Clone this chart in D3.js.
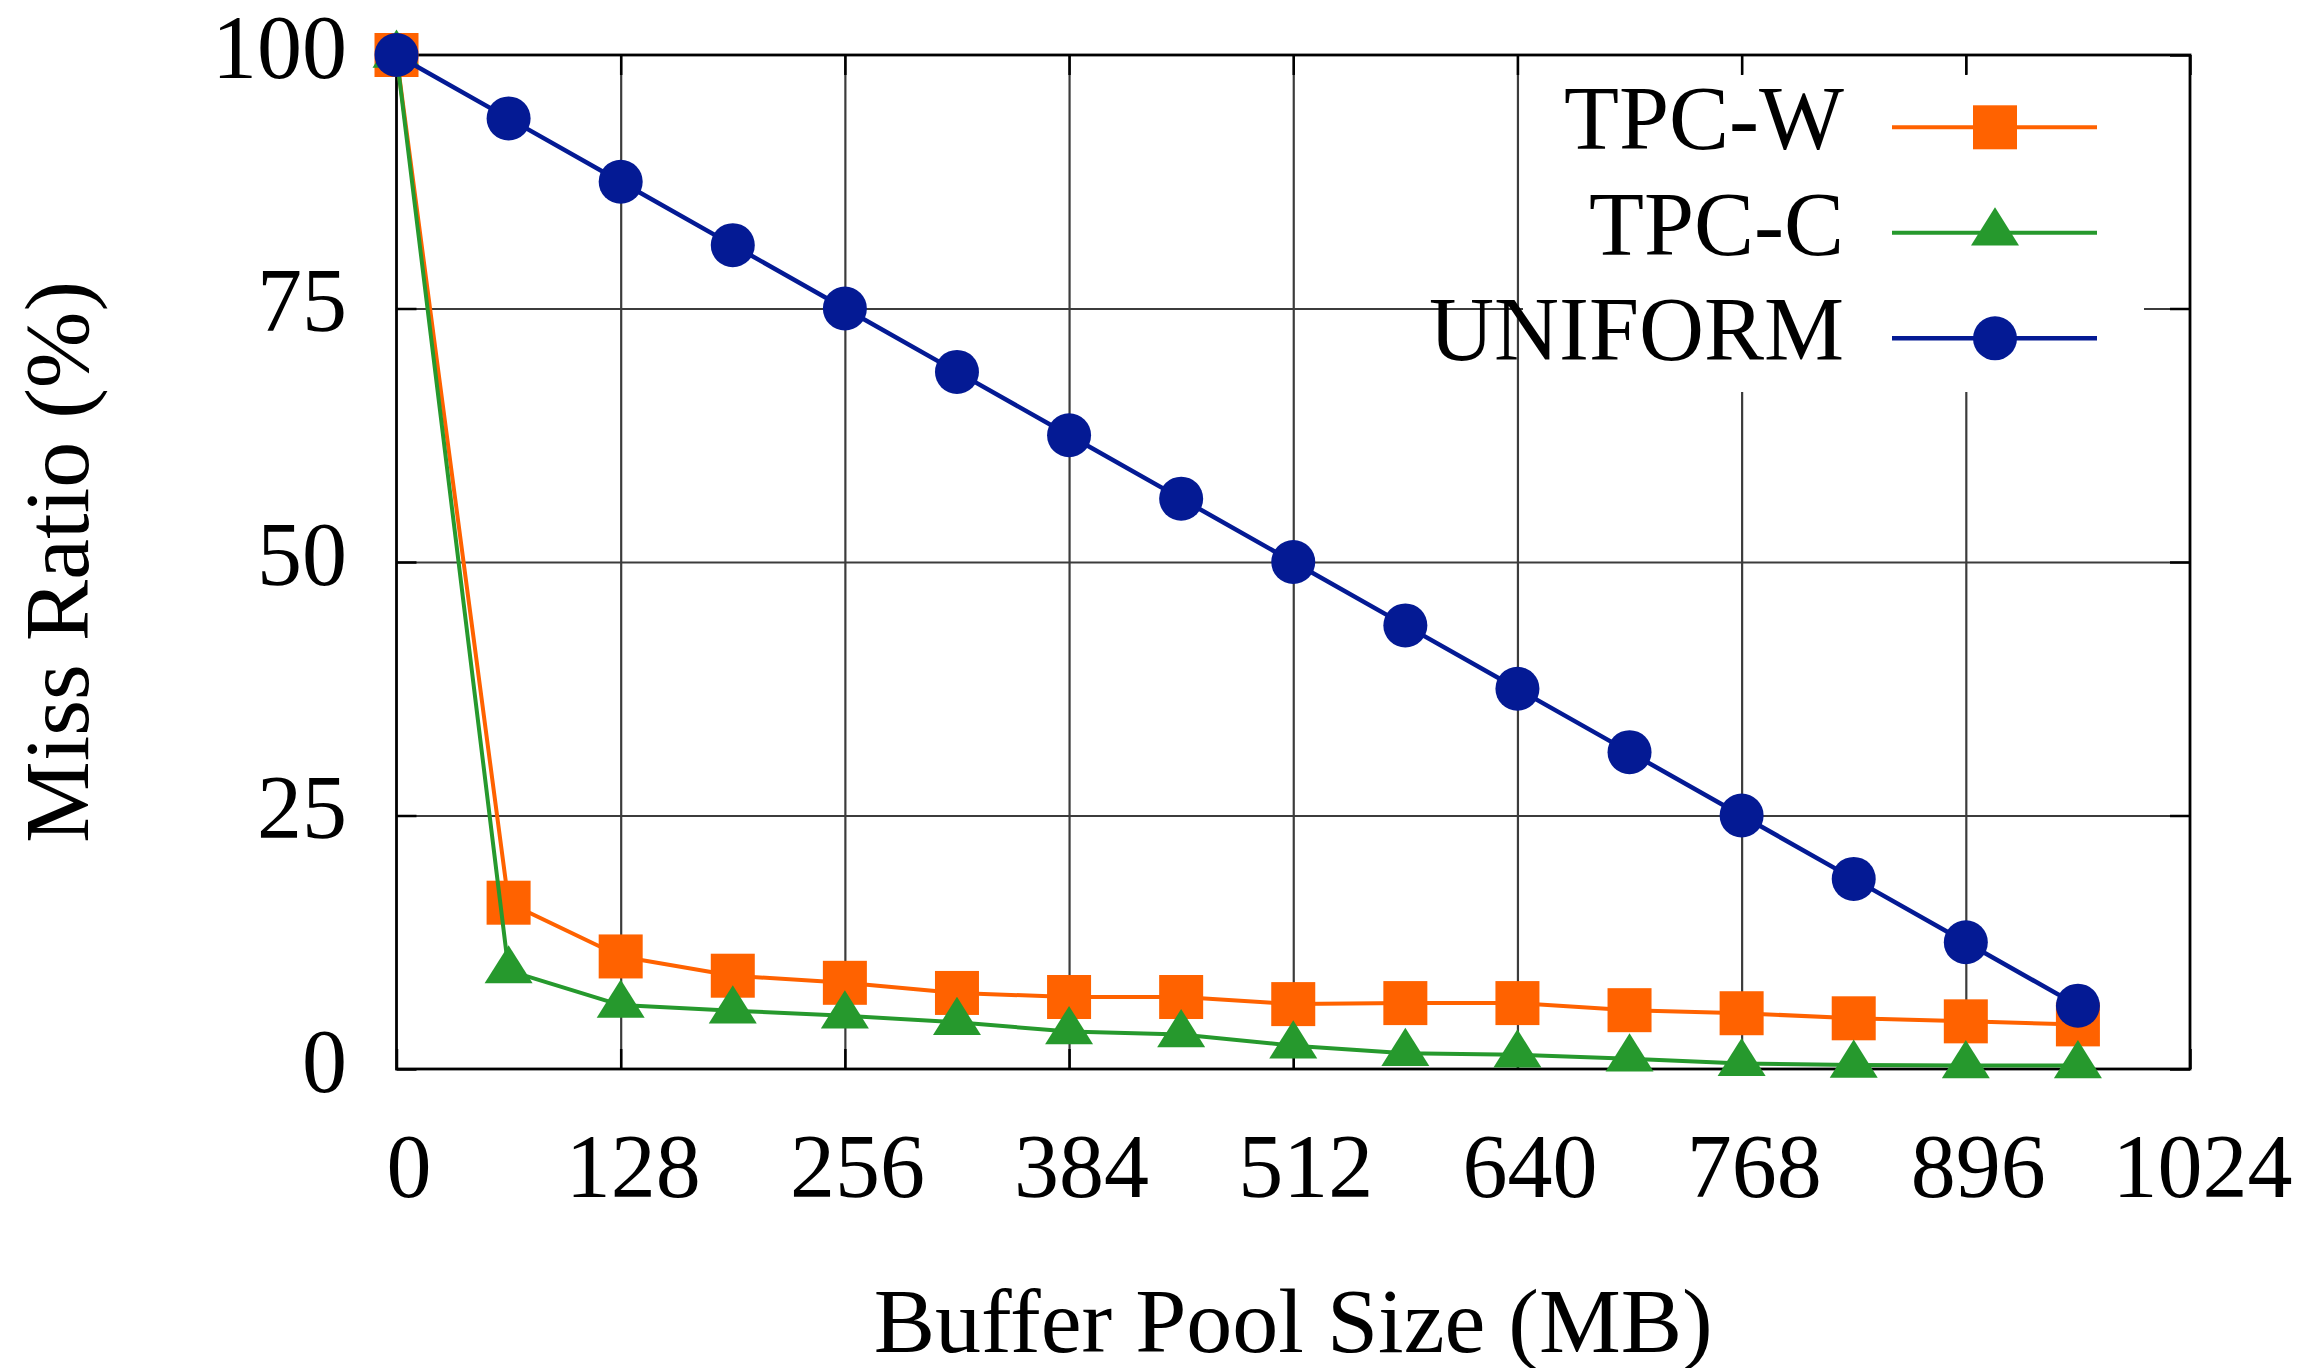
<!DOCTYPE html>
<html>
<head>
  <meta charset="UTF-8">
  <title>Miss Ratio vs Buffer Pool Size</title>
  <script src="https://cdn.jsdelivr.net/npm/d3@7"></script>
  <style>
    body { margin: 0; background: #fff; }
    text { font-family: "Liberation Serif", "Times New Roman", serif; fill: #000; }
  </style>
</head>
<body>
<svg id="chart" width="2322" height="1368"></svg>
<script>
  // data
  const poolSizes = [0, 64, 128, 192, 256, 320, 384, 448, 512, 576, 640, 704, 768, 832, 896, 960];
  const tpcw = [100, 16.4, 11.1, 9.2, 8.5, 7.5, 7.1, 7.1, 6.4, 6.5, 6.5, 5.8, 5.5, 5.0, 4.7, 4.4];
  const tpcc = [100, 9.7, 6.3, 5.75, 5.25, 4.6, 3.7, 3.4, 2.3, 1.55, 1.4, 1.0, 0.55, 0.4, 0.35, 0.35];
  const uniform = [100, 93.75, 87.5, 81.25, 75, 68.75, 62.5, 56.25, 50, 43.75, 37.5, 31.25, 25, 18.75, 12.5, 6.25];

  const xTicks = [0, 128, 256, 384, 512, 640, 768, 896, 1024];
  const yTicks = [0, 25, 50, 75, 100];
  const seriesNames = ['TPC-W', 'TPC-C', 'UNIFORM'];

  const margin = {left: 396.5, right: 132, top: 55, bottom: 299};
  const width = 2322 - margin.left - margin.right;
  const height = 1368 - margin.top - margin.bottom;

  const svg = d3.select('#chart');
  const g = svg.append('g').attr('transform', `translate(${margin.left},${margin.top})`);

  const x = d3.scaleLinear().domain([0, 1024]).range([0, width]);
  const y = d3.scaleLinear().domain([0, 100]).range([height, 0]);
  const fmt = d3.format('d');

  // grid
  g.append('g').attr('class', 'grid')
    .attr('transform', `translate(0,${height})`)
    .call(d3.axisBottom(x).tickValues(xTicks.slice(1, -1)).tickSize(-height).tickFormat(''));
  g.append('g').attr('class', 'grid')
    .call(d3.axisLeft(y).tickValues(yTicks.slice(1, -1)).tickSize(-width).tickFormat(''));
  g.selectAll('.grid .domain').remove();
  g.selectAll('.grid line').attr('stroke', '#3c3c3c').attr('stroke-width', 2.2);

  // key background hides the grid behind it
  g.append('rect')
    .attr('x', 1523 - margin.left).attr('y', 74 - margin.top)
    .attr('width', 621).attr('height', 318)
    .attr('fill', '#fff');

  // axes with inward ticks on all four sides
  const xAxis = g.append('g').attr('class', 'axis').attr('transform', `translate(0,${height})`)
    .call(d3.axisBottom(x).tickValues(xTicks).tickFormat(fmt).tickSize(-20).tickSizeOuter(0));
  xAxis.selectAll('text').attr('y', 128).attr('dy', 0).attr('dx', 12);

  const yAxis = g.append('g').attr('class', 'axis')
    .call(d3.axisLeft(y).tickValues(yTicks).tickFormat(fmt).tickSize(-20).tickSizeOuter(0));
  yAxis.selectAll('text').attr('x', -49.5).attr('dy', 0).attr('y', 22);

  g.append('g').attr('class', 'axis')
    .call(d3.axisTop(x).tickValues(xTicks).tickSize(-20).tickSizeOuter(0).tickFormat(''));
  g.append('g').attr('class', 'axis').attr('transform', `translate(${width},0)`)
    .call(d3.axisRight(y).tickValues(yTicks).tickSize(-20).tickSizeOuter(0).tickFormat(''));

  g.selectAll('.domain').remove();
  g.selectAll('.axis .tick line').attr('stroke', '#000').attr('stroke-width', 2.5);
  g.selectAll('.axis .tick text').attr('font-size', 90).attr('font-family', '"Liberation Serif", serif').attr('fill', '#000');

  g.append('rect')
    .attr('width', width).attr('height', height)
    .attr('fill', 'none').attr('stroke', '#000').attr('stroke-width', 2.8);

  // markers
  const trianglePath = 'M0,-25.5L24,12.7L-24,12.7Z';
  function drawMarker(sel, kind, color)
  {
    if (kind === 'square')
    {
      sel.append('rect').attr('x', -22).attr('y', -22).attr('width', 44).attr('height', 44).attr('fill', color);
    }
    else if (kind === 'triangle')
    {
      sel.append('path').attr('d', trianglePath).attr('fill', color);
    }
    else
    {
      sel.append('circle').attr('r', 22).attr('fill', color);
    }
  }

  const series = [
    {name: seriesNames[0], values: tpcw, color: '#ff6200', marker: 'square', lw: 4},
    {name: seriesNames[1], values: tpcc, color: '#26992d', marker: 'triangle', lw: 4},
    {name: seriesNames[2], values: uniform, color: '#041a94', marker: 'circle', lw: 4.5}
  ];

  const line = d3.line().x(d => x(d[0])).y(d => y(d[1]));

  series.forEach(function(s)
  {
    const pts = poolSizes.map((p, i) => [p, s.values[i]]);
    g.append('path').datum(pts)
      .attr('d', line)
      .attr('fill', 'none')
      .attr('stroke', s.color)
      .attr('stroke-width', s.lw)
      .attr('stroke-linejoin', 'round');
    g.append('g').selectAll('g').data(pts).enter()
      .append('g')
        .attr('transform', d => `translate(${x(d[0])},${y(d[1])})`)
        .each(function() { drawMarker(d3.select(this), s.marker, s.color); });
  });

  // legend
  const legendRowY = [127.3, 232.7, 338.3];
  series.forEach(function(s, i)
  {
    const row = svg.append('g').attr('transform', `translate(0,${legendRowY[i]})`);
    row.append('text')
      .attr('x', 1844).attr('y', 22)
      .attr('text-anchor', 'end')
      .attr('font-size', 90)
      .text(s.name);
    row.append('line')
      .attr('x1', 1892).attr('x2', 2097)
      .attr('stroke', s.color).attr('stroke-width', s.lw);
    drawMarker(row.append('g').attr('transform', 'translate(1995,0)'), s.marker, s.color);
  });

  // axis titles
  svg.append('text')
    .attr('x', margin.left + width / 2).attr('y', 1352)
    .attr('text-anchor', 'middle')
    .attr('font-size', 92)
    .text('Buffer Pool Size (MB)');

  svg.append('text')
    .attr('transform', `translate(88,${margin.top + height / 2}) rotate(-90)`)
    .attr('text-anchor', 'middle')
    .attr('font-size', 92)
    .text('Miss Ratio (%)');
</script>
</body>
</html>
